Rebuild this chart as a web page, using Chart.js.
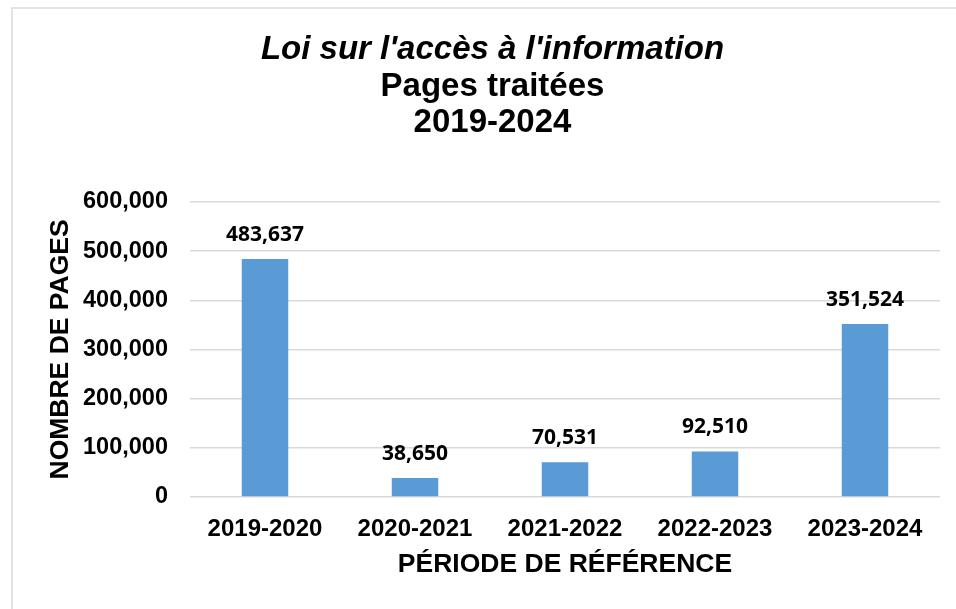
<!DOCTYPE html>
<html>
<head>
<meta charset="utf-8">
<script src="https://cdn.jsdelivr.net/npm/chart.js@4"></script>
<style>
  html, body { margin: 0; padding: 0; background: #fff; }
  #wrap { position: relative; width: 956px; height: 609px; }
  #frame { position: absolute; left: 11px; top: 7px; right: 0; bottom: 0;
           border-top: 2px solid #e3e3e3; border-left: 2px solid #e3e3e3; }
  canvas { position: absolute; left: 0; top: 0; }
</style>
</head>
<body>
<div id="wrap">
  <div id="frame"></div>
  <canvas id="pagesChart" width="956" height="609"></canvas>
</div>
<script>
const periods = ['2019-2020', '2020-2021', '2021-2022', '2022-2023', '2023-2024'];
const pagesTraitees = [483637, 38650, 70531, 92510, 351524];
const yTicks = [0, 100000, 200000, 300000, 400000, 500000, 600000];

const arial = 'Liberation Sans, Arial, sans-serif';
const fmt = v => v.toLocaleString('en-US');

// value labels above each bar
const barLabels = {
  id: 'barLabels',
  afterDatasetsDraw(chart) {
    const { ctx } = chart;
    const meta = chart.getDatasetMeta(0);
    ctx.save();
    ctx.font = 'bold 21px "Open Sans", sans-serif';
    ctx.fillStyle = '#000';
    ctx.textAlign = 'center';
    ctx.textBaseline = 'middle';
    meta.data.forEach((bar, i) => {
      ctx.fillText(fmt(pagesTraitees[i]), bar.x, bar.y - 24);
    });
    ctx.restore();
  },
};

const ctx = document.getElementById('pagesChart').getContext('2d');
new Chart(ctx, {
  type: 'bar',
  data: {
    labels: periods,
    datasets: [
      {
        label: 'Pages traitées',
        data: pagesTraitees,
        backgroundColor: '#5B9BD5',
        categoryPercentage: 1,
        barPercentage: 0.31,
      },
    ],
  },
  options: {
    responsive: false,
    animation: false,
    layout: { padding: { left: 45, right: 16, bottom: 28, top: 0 } },
    scales: {
      x: {
        afterFit: s => { s.height = 84; },
        grid: { display: false, drawTicks: false },
        border: { display: false },
        ticks: { color: '#000', padding: 18, font: { family: arial, size: 24, weight: 'bold' } },
        title: {
          display: true,
          text: 'PÉRIODE DE RÉFÉRENCE',
          color: '#000',
          padding: { top: 0, bottom: 0 },
          font: { family: arial, size: 26.5, weight: 'bold' },
        },
      },
      y: {
        min: 0,
        max: 600000,
        afterFit: s => { s.width = 145; },
        afterBuildTicks: axis => { axis.ticks = yTicks.map(v => ({ value: v })); },
        grid: { color: '#d9d9d9', lineWidth: 1.5, drawTicks: false },
        border: { display: false },
        ticks: {
          color: '#000',
          padding: 22,
          font: { family: arial, size: 23.5, weight: 'bold' },
          callback: v => fmt(v),
        },
        title: {
          display: true,
          text: 'NOMBRE DE PAGES',
          color: '#000',
          padding: { top: 0, bottom: 0 },
          font: { family: arial, size: 26.5, weight: 'bold' },
        },
      },
    },
    plugins: {
      legend: { display: false },
      tooltip: { enabled: false },
      title: {
        display: true,
        text: "Loi sur l'accès à l'information",
        color: '#000',
        padding: { top: 31, bottom: 0 },
        font: { family: arial, size: 33, weight: 'bold', style: 'italic', lineHeight: 1.12 },
      },
      subtitle: {
        display: true,
        text: ['Pages traitées', '2019-2024'],
        color: '#000',
        padding: { top: 0, bottom: 60 },
        font: { family: arial, size: 33, weight: 'bold', lineHeight: 1.12 },
      },
    },
  },
  plugins: [barLabels],
});
</script>
</body>
</html>
